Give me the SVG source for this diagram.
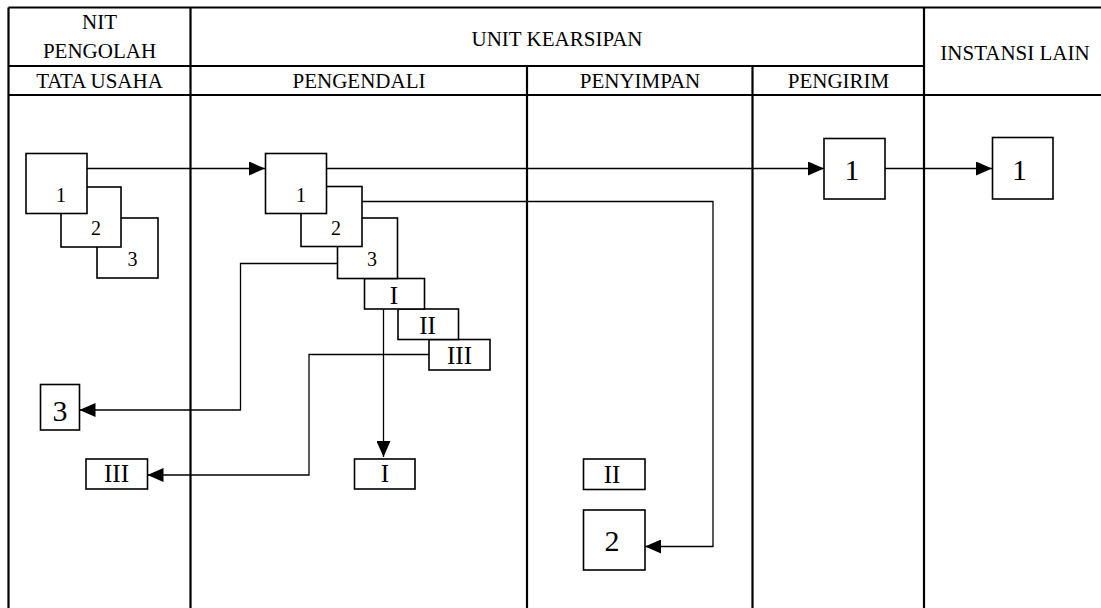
<svg xmlns="http://www.w3.org/2000/svg" width="1101" height="608" viewBox="0 0 1101 608">
<style>
text{font-family:"Liberation Serif","Times New Roman",serif;fill:#000;text-anchor:middle}
.hd{font-size:21px}
.sm{font-size:20px}
.rn{font-size:25px}
.bg{font-size:30px}
.grid{stroke:#000;stroke-width:2.2;fill:none}
.box{fill:#fff;stroke:#000;stroke-width:1.6}
.con{fill:none;stroke:#000;stroke-width:1.3}
</style>
<defs>
<marker id="ah" markerUnits="userSpaceOnUse" markerWidth="16" markerHeight="14" viewBox="0 0 16 14" refX="16" refY="7" orient="auto">
<path d="M0,0 L16,7 L0,14 z" fill="#000"/>
</marker>
</defs>
<rect width="1101" height="608" fill="#fff"/>
<g id="table">
<path class="grid" d="M8.5,7.5 H1101 M8.5,66 H924 M8.5,95 H1101 M8.5,7.5 V608 M190.5,7.5 V608 M527,66 V608 M752.5,66 V608 M924,7.5 V608"/>
<text class="hd" x="99.5" y="29">NIT</text>
<text class="hd" x="99.5" y="58">PENGOLAH</text>
<text class="hd" x="557" y="45.5">UNIT KEARSIPAN</text>
<text class="hd" x="1015" y="60">INSTANSI LAIN</text>
<text class="hd" x="99.5" y="88">TATA USAHA</text>
<text class="hd" x="359" y="88">PENGENDALI</text>
<text class="hd" x="640" y="88">PENYIMPAN</text>
<text class="hd" x="838.5" y="88">PENGIRIM</text>
</g>
<g id="connectors">
<path class="con" d="M87,168.5 H265" marker-end="url(#ah)"/>
<path class="con" d="M327,168.5 H824" marker-end="url(#ah)"/>
<path class="con" d="M885,168.5 H992" marker-end="url(#ah)"/>
<path class="con" d="M362,201.5 H713 V546.5 H645" marker-end="url(#ah)"/>
<path class="con" d="M337,263.5 H240.5 V410 H79.5" marker-end="url(#ah)"/>
<path class="con" d="M429,354.5 H309 V475 H147.5" marker-end="url(#ah)"/>
<path class="con" d="M383.5,309 V457" marker-end="url(#ah)"/>
</g>
<g id="tu-3"><rect class="box" x="97" y="218" width="61" height="60"/><text class="sm" x="132.5" y="266">3</text></g>
<g id="tu-2"><rect class="box" x="61" y="187" width="60" height="60"/><text class="sm" x="96" y="234.5">2</text></g>
<g id="tu-1"><rect class="box" x="26" y="153.5" width="61" height="60"/><text class="sm" x="61" y="202">1</text></g>
<g id="pg-III"><rect class="box" x="429" y="339.5" width="61" height="30.5"/><text class="rn" x="459.5" y="363.5">III</text></g>
<g id="pg-II"><rect class="box" x="398" y="309" width="60.5" height="30.5"/><text class="rn" x="427.5" y="333.5">II</text></g>
<g id="pg-I"><rect class="box" x="364.5" y="278.5" width="60" height="30.5"/><text class="rn" x="394" y="303.5">I</text></g>
<g id="pg-3"><rect class="box" x="337.5" y="218" width="60" height="60.5"/><text class="sm" x="372" y="266">3</text></g>
<g id="pg-2"><rect class="box" x="301" y="186.5" width="61" height="60"/><text class="sm" x="336" y="234.5">2</text></g>
<g id="pg-1"><rect class="box" x="265.5" y="153.5" width="61" height="60"/><text class="sm" x="301" y="202">1</text></g>
<g id="kirim-1"><rect class="box" x="824" y="138.5" width="61" height="60.5"/><text class="bg" x="852" y="180">1</text></g>
<g id="lain-1"><rect class="box" x="992.5" y="137.5" width="60.5" height="61.5"/><text class="bg" x="1019.5" y="180">1</text></g>
<g id="tu-out-3"><rect class="box" x="40.5" y="384.5" width="39" height="45.5"/><text class="bg" x="60" y="420.5">3</text></g>
<g id="tu-out-III"><rect class="box" x="86" y="459" width="61.5" height="30"/><text class="rn" x="116.5" y="482">III</text></g>
<g id="pg-out-I"><rect class="box" x="354.5" y="459" width="60.5" height="30"/><text class="rn" x="385" y="482">I</text></g>
<g id="sp-II"><rect class="box" x="583.5" y="459" width="61.5" height="30.5"/><text class="rn" x="612" y="482.5">II</text></g>
<g id="sp-2"><rect class="box" x="583.5" y="510" width="61.5" height="60"/><text class="bg" x="612" y="551">2</text></g>
</svg>
